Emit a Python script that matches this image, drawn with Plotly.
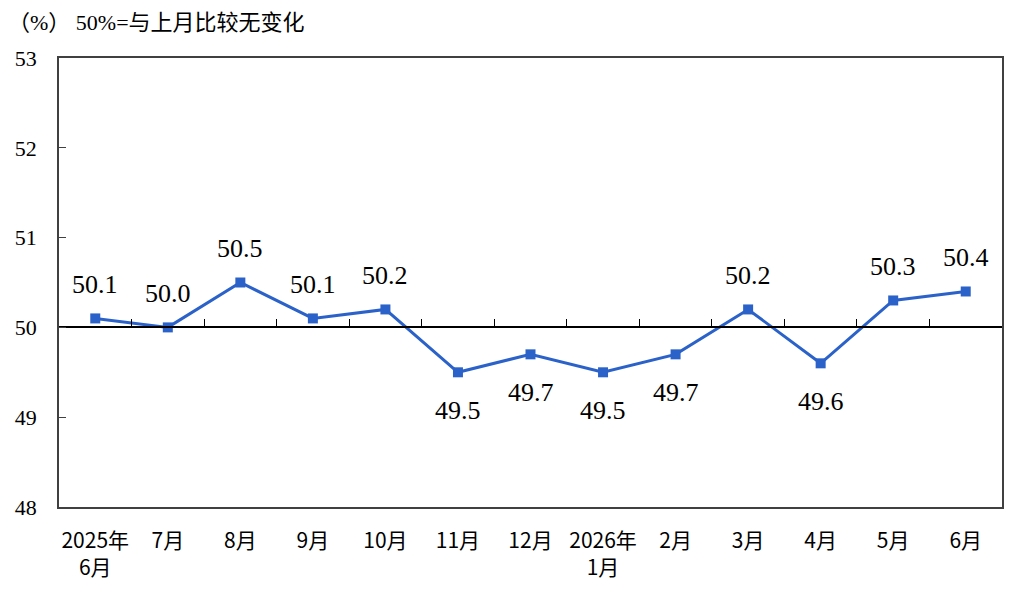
import plotly.graph_objects as go

# 数据
months = ["2025年<br>6月", "7月", "8月", "9月", "10月", "11月", "12月",
          "2026年<br>1月", "2月", "3月", "4月", "5月", "6月"]
pmi = [50.1, 50.0, 50.5, 50.1, 50.2, 49.5, 49.7, 49.5, 49.7, 50.2, 49.6, 50.3, 50.4]
below = [False, False, False, False, False, True, True, True, True, False, True, False, False]
baseline = 50
y_min, y_max = 48, 53

blue = "#2b62c9"
frame = "#404040"
serif = "Liberation Serif"
cjk = "Noto Sans CJK SC"

idx = list(range(len(months)))

fig = go.Figure()
fig.add_trace(go.Scatter(
    x=idx, y=pmi, mode="lines+markers",
    line=dict(color=blue, width=3),
    marker=dict(symbol="square", size=10, color=blue),
    hoverinfo="skip", showlegend=False,
))
# empty trace so the 50 axis line gets drawn
fig.add_trace(go.Scatter(x=[], y=[], xaxis="x2", showlegend=False))

# data labels
for i, v, b in zip(idx, pmi, below):
    fig.add_annotation(
        x=i, y=v, text=f"{v:.1f}", showarrow=False,
        yshift=-38 if b else 34,
        font=dict(family=serif, size=26, color="black"),
    )

fig.update_layout(
    width=1022, height=596,
    margin=dict(l=51, r=28, t=50, b=97, autoexpand=False),
    paper_bgcolor="white", plot_bgcolor="white",
    title=dict(
        text="（%） 50%=与上月比较无变化",
        font=dict(family="Liberation Serif, Noto Sans CJK SC", size=22, color="black"),
        xref="container", yref="container",
        x=0, y=1 - 14 / 596, xanchor="left", yanchor="middle",
    ),
    xaxis=dict(
        range=[-0.5, len(months) - 0.5],
        tickvals=idx, ticktext=months, ticks="",
        showline=True, linecolor=frame, linewidth=1.5, mirror=True,
        showgrid=False, zeroline=False, automargin=False,
        tickfont=dict(family=cjk, size=21, color="black"),
        ticklabelstandoff=14,
    ),
    xaxis2=dict(
        overlaying="x", anchor="free",
        position=(baseline - y_min) / (y_max - y_min),
        range=[-0.5, len(months) - 0.5],
        tickvals=[i + 0.5 for i in idx[:-1]],
        ticks="inside", ticklen=8, tickwidth=1.2, tickcolor="black",
        showticklabels=False, showline=True, linecolor="black", linewidth=1.8,
        showgrid=False, zeroline=False,
    ),
    yaxis=dict(
        range=[y_min, y_max], dtick=1,
        ticks="inside", ticklen=7, tickcolor=frame,
        showline=True, linecolor=frame, linewidth=1.5, mirror=True,
        showgrid=False, zeroline=False, automargin=False,
        tickfont=dict(family=serif, size=22, color="black"),
        ticklabelstandoff=16,
    ),
)

fig.write_html("out.html")
